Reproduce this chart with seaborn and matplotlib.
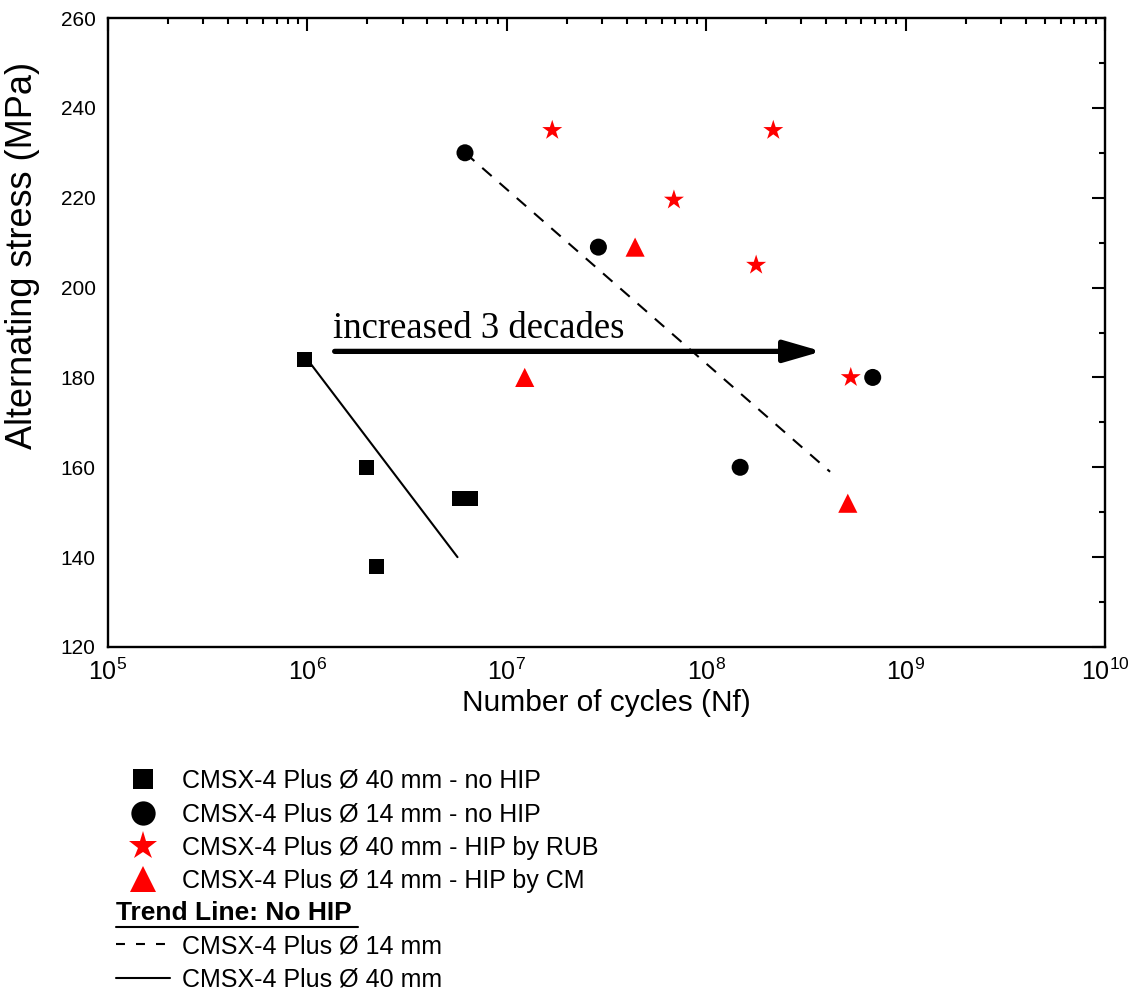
import numpy as np
import pandas as pd
import matplotlib
matplotlib.use("Agg")
import matplotlib.pyplot as plt
import seaborn as sns
from matplotlib.ticker import MultipleLocator, LogLocator, NullFormatter
from matplotlib.lines import Line2D

# ---- data ----
sq40_cycles = [9.7e5, 1.97e6, 2.23e6, 5.82e6, 6.59e6]
sq40_stress = [184, 160, 138, 153, 153]

ci14_cycles = [6.17e6, 2.88e7, 1.48e8, 6.84e8]
ci14_stress = [230, 209, 160, 180]

st40_cycles = [1.69e7, 6.89e7, 1.78e8, 2.17e8, 5.31e8]
st40_stress = [235, 219.5, 205, 235, 180]

tr14_cycles = [1.23e7, 4.4e7, 5.13e8]
tr14_stress = [180, 209, 152]

trend14_cycles = [6.17e6, 4.18e8]
trend14_stress = [230, 159]
trend40_cycles = [1.0e6, 5.66e6]
trend40_stress = [184, 140]

arrow_cycles = [1.37e6, 3.8e8]
arrow_stress = 185.8

labels = ["CMSX-4 Plus Ø 40 mm - no HIP",
          "CMSX-4 Plus Ø 14 mm - no HIP",
          "CMSX-4 Plus Ø 40 mm - HIP by RUB",
          "CMSX-4 Plus Ø 14 mm - HIP by CM"]
trend_labels = ["CMSX-4 Plus Ø 14 mm", "CMSX-4 Plus Ø 40 mm"]
trend_title = "Trend Line: No HIP"

sns.set_theme(style="white")
plt.rcParams['font.family'] = ['Liberation Sans', 'DejaVu Sans']
plt.rcParams['mathtext.default'] = 'regular'
for k in ['text.color', 'axes.labelcolor', 'xtick.color', 'ytick.color']:
    plt.rcParams[k] = 'black'

fig = plt.figure(figsize=(11.3, 9.94), dpi=100)
ax = fig.add_axes([108/1130, 1-647/994, (1105-108)/1130, (647-18)/994])

df_sq = pd.DataFrame({"x": sq40_cycles, "y": sq40_stress})
df_ci = pd.DataFrame({"x": ci14_cycles, "y": ci14_stress})
df_st = pd.DataFrame({"x": st40_cycles, "y": st40_stress})
df_tr = pd.DataFrame({"x": tr14_cycles, "y": tr14_stress})
df_t14 = pd.DataFrame({"x": trend14_cycles, "y": trend14_stress})
df_t40 = pd.DataFrame({"x": trend40_cycles, "y": trend40_stress})

sns.lineplot(data=df_t14, x="x", y="y", ax=ax, color="black", lw=1.5,
             linestyle=(0, (6, 5)), sort=False, estimator=None)
sns.lineplot(data=df_t40, x="x", y="y", ax=ax, color="black", lw=1.5,
             sort=False, estimator=None)

sns.scatterplot(data=df_sq, x="x", y="y", ax=ax, marker="s", s=115, color="black",
                edgecolor="none", zorder=3)
sns.scatterplot(data=df_ci, x="x", y="y", ax=ax, marker="o", s=150, color="black",
                edgecolor="none", zorder=3)
sns.scatterplot(data=df_st, x="x", y="y", ax=ax, marker="*", s=230, color="#ff0000",
                edgecolor="none", zorder=3)
sns.scatterplot(data=df_tr, x="x", y="y", ax=ax, marker="^", s=190, color="#ff0000",
                edgecolor="none", zorder=3)

ax.annotate("", xy=(arrow_cycles[1], arrow_stress), xytext=(arrow_cycles[0], arrow_stress),
            arrowprops=dict(arrowstyle="-|>,head_length=1.9,head_width=0.55",
                            lw=3.8, color="black", shrinkA=0, shrinkB=0))
ax.text(1.34e6, 188.8, "increased 3 decades", family="Liberation Serif",
        fontsize=26.5, va="baseline", ha="left", color="black")

ax.set_xscale("log")
ax.set_xlim(1e5, 1e10)
ax.set_ylim(120, 260)
ax.xaxis.set_major_locator(LogLocator(base=10, numticks=10))
ax.xaxis.set_minor_locator(LogLocator(base=10, subs=np.arange(2, 10), numticks=20))
ax.xaxis.set_minor_formatter(NullFormatter())
ax.yaxis.set_major_locator(MultipleLocator(20))
ax.yaxis.set_minor_locator(MultipleLocator(10))

ax.tick_params(which="both", direction="in", top=True, right=True, color="black", width=1.5)
ax.tick_params(which="major", length=9.5)
ax.tick_params(which="minor", length=4.5)
ax.tick_params(axis="y", labelsize=15, pad=9)
ax.tick_params(axis="x", labelsize=18, pad=8)
for sp in ax.spines.values():
    sp.set_color("black")
    sp.set_linewidth(1.7)

ax.set_xlabel("Number of cycles (Nf)", fontsize=21.5, labelpad=3)
ax.set_ylabel("Alternating stress (MPa)", fontsize=26)
ax.yaxis.set_label_coords(-0.068, 0.623)
ax.grid(False)

# ---- legend ----
fs = 18
h_markers = [
    Line2D([], [], ls="none", marker="s", color="black", markersize=14.5, markeredgewidth=0),
    Line2D([], [], ls="none", marker="o", color="black", markersize=17.5, markeredgewidth=0),
    Line2D([], [], ls="none", marker="*", color="#ff0000", markersize=21, markeredgewidth=0),
    Line2D([], [], ls="none", marker="^", color="#ff0000", markersize=18.5, markeredgewidth=0),
]
leg1 = fig.legend(h_markers, labels, loc="upper left", bbox_to_anchor=(116/1130, 1-769/994),
                  frameon=False, fontsize=fs, handlelength=2.15, handletextpad=0.5,
                  borderpad=0, borderaxespad=0, labelspacing=0.37)
fig.text(116/1130, 1-913/994, trend_title, fontsize=19, fontweight="bold",
         ha="left", va="center")
fig.add_artist(Line2D([116/1130, 358/1130], [1-927/994, 1-927/994],
                      transform=fig.transFigure, color="black", lw=1.5))
h_lines = [
    Line2D([], [], color="black", lw=1.5, ls=(0, (4.3, 5.3))),
    Line2D([], [], color="black", lw=1.5),
]
leg2 = fig.legend(h_lines, trend_labels, loc="upper left", bbox_to_anchor=(116/1130, 1-934/994),
                  frameon=False, fontsize=fs, handlelength=2.15, handletextpad=0.5,
                  borderpad=0, borderaxespad=0, labelspacing=0.37)

fig.savefig("out.png", dpi=100)
